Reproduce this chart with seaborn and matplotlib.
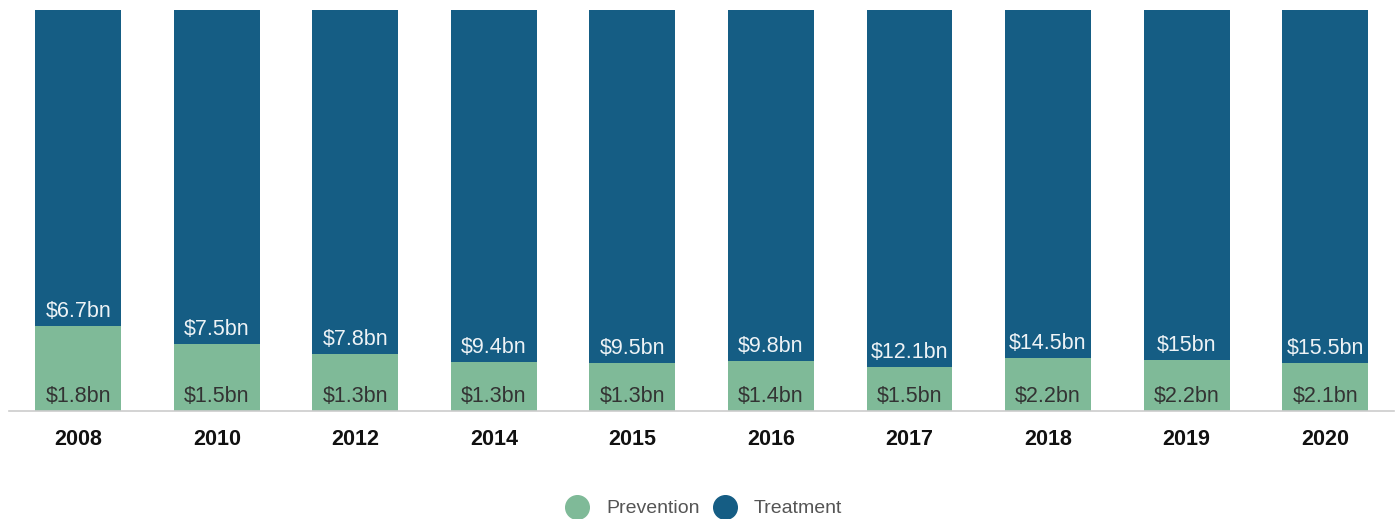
import matplotlib
matplotlib.use("Agg")
import matplotlib.pyplot as plt
import seaborn as sns
import pandas as pd
from matplotlib.lines import Line2D

years = ["2008", "2010", "2012", "2014", "2015", "2016", "2017", "2018", "2019", "2020"]
prevention = [1.8, 1.5, 1.3, 1.3, 1.3, 1.4, 1.5, 2.2, 2.2, 2.1]
treatment = [6.7, 7.5, 7.8, 9.4, 9.5, 9.8, 12.1, 14.5, 15.0, 15.5]
prev_labels = ["$1.8bn", "$1.5bn", "$1.3bn", "$1.3bn", "$1.3bn", "$1.4bn", "$1.5bn", "$2.2bn", "$2.2bn", "$2.1bn"]
treat_labels = ["$6.7bn", "$7.5bn", "$7.8bn", "$9.4bn", "$9.5bn", "$9.8bn", "$12.1bn", "$14.5bn", "$15bn", "$15.5bn"]

GREEN = "#7fba98"
BLUE = "#155d84"

sns.set_theme(style="white")
plt.rcParams["font.family"] = ["Liberation Sans", "DejaVu Sans"]

df = pd.DataFrame({"year": years, "prevention": prevention, "treatment": treatment})
df["total"] = df["prevention"] + df["treatment"]
df["prev_share"] = df["prevention"] / df["total"] * 100
df["full"] = 100.0

fig = plt.figure(figsize=(14, 5.19), dpi=100)
ax = fig.add_axes([0.0064, 0.208, 0.9896, 0.773])

sns.barplot(data=df, x="year", y="full", color=BLUE, width=0.62, ax=ax, saturation=1, linewidth=0)
sns.barplot(data=df, x="year", y="prev_share", color=GREEN, width=0.62, ax=ax, saturation=1, linewidth=0)

for i, (s, pl, tl) in enumerate(zip(df["prev_share"], prev_labels, treat_labels)):
    ax.annotate(pl, (i, 0), xytext=(0, 3), textcoords="offset points",
                ha="center", va="bottom", fontsize=15.5, color="#333333")
    ax.annotate(tl, (i, s), xytext=(0, 3), textcoords="offset points",
                ha="center", va="bottom", fontsize=15.5, color="#eef3f6")

ax.set_ylim(0, 100)
ax.set_xlim(-0.5, len(years) - 0.5)
ax.set_xlabel("")
ax.set_ylabel("")
ax.set_yticks([])
for sp in ["top", "left", "right"]:
    ax.spines[sp].set_visible(False)
ax.spines["bottom"].set_color("#cccccc")
ax.spines["bottom"].set_linewidth(1.2)
ax.tick_params(axis="x", length=0, pad=13)
for t in ax.get_xticklabels():
    t.set_fontweight("bold")
    t.set_fontsize(15.5)
    t.set_color("#111111")

handles = [
    Line2D([0], [0], marker="o", linestyle="", markersize=17, markerfacecolor=GREEN, markeredgecolor=GREEN),
    Line2D([0], [0], marker="o", linestyle="", markersize=17, markerfacecolor=BLUE, markeredgecolor=BLUE),
]
leg = fig.legend(handles, ["Prevention", "Treatment"], loc="center", bbox_to_anchor=(0.5, 0.02),
                 ncol=2, frameon=False, fontsize=14, handletextpad=0.5, columnspacing=0.3)
for t in leg.get_texts():
    t.set_color("#555555")

fig.savefig("out.png", dpi=100)
